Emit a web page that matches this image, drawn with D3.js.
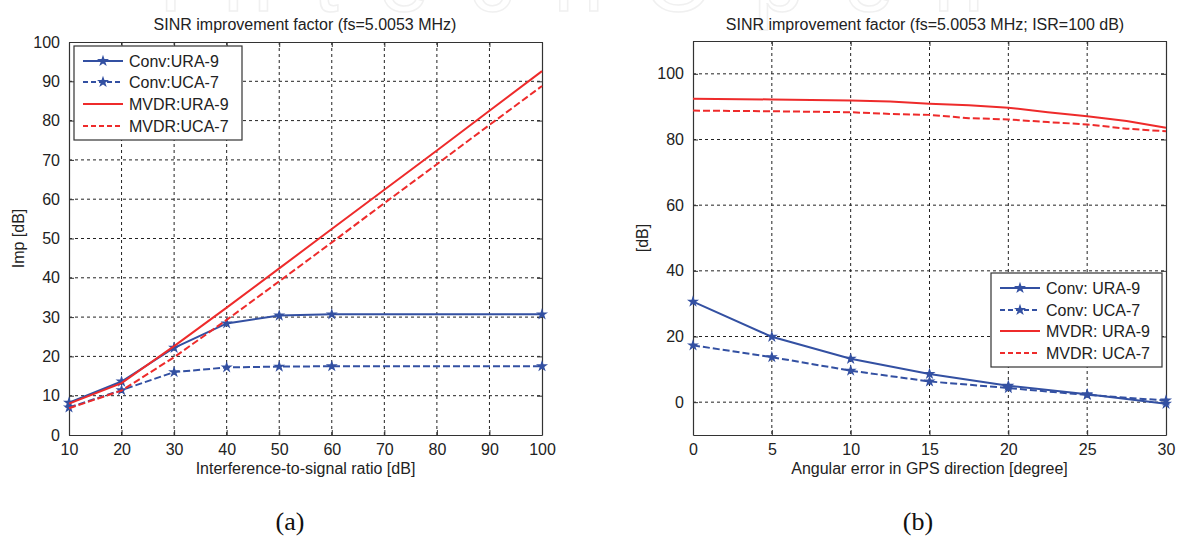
<!DOCTYPE html>
<html>
<head>
<meta charset="utf-8">
<script src="https://cdn.jsdelivr.net/npm/d3@7"></script>
<style>
  body { margin: 0; background: #fff; }
  svg { display: block; font-family: "Liberation Sans", Arial, sans-serif; }
</style>
</head>
<body>
<div id="chart-area"></div>
<script>
// ---- data ----
// (a) improvement vs interference-to-signal ratio
var isrConv = [10, 20, 30, 40, 50, 60, 100]
var convUra9A = [8.2, 13.6, 22.2, 28.4, 30.4, 30.7, 30.7]
var convUca7A = [7.0, 11.4, 16.0, 17.2, 17.4, 17.5, 17.5]
var isrMvdr = [10, 20, 30, 40, 50, 60, 70, 80, 90, 100]
var mvdrUra9A = [8.0, 13.2, 22.6, 32.4, 42.4, 52.4, 62.4, 72.4, 82.5, 92.6]
var mvdrUca7A = [6.8, 11.3, 19.8, 29.3, 39.1, 49.0, 59.0, 68.9, 78.9, 88.8]

// (b) improvement vs angular error
var angConv = [0, 5, 10, 15, 20, 25, 30]
var convUra9B = [30.6, 19.9, 13.2, 8.6, 5.0, 2.4, -0.5]
var convUca7B = [17.3, 13.7, 9.6, 6.3, 4.3, 2.2, 0.5]
var angMvdr = [0, 5, 10, 12.5, 15, 17.5, 20, 22.5, 25, 27.5, 30]
var mvdrUra9B = [92.4, 92.2, 91.9, 91.6, 90.9, 90.4, 89.7, 88.3, 87.1, 85.6, 83.6]
var mvdrUca7B = [88.8, 88.6, 88.3, 87.8, 87.5, 86.5, 86.1, 85.3, 84.6, 83.3, 82.5]

var ticksA_x = [10, 20, 30, 40, 50, 60, 70, 80, 90, 100]
var ticksA_y = [0, 10, 20, 30, 40, 50, 60, 70, 80, 90, 100]
var ticksB_x = [0, 5, 10, 15, 20, 25, 30]
var ticksB_y = [0, 20, 40, 60, 80, 100]

var legendA = ["Conv:URA-9", "Conv:UCA-7", "MVDR:URA-9", "MVDR:UCA-7"]
var legendB = ["Conv: URA-9", "Conv: UCA-7", "MVDR: URA-9", "MVDR: UCA-7"]

var blue = "#3350a2", red = "#ee2b2b"
var dashes = "7,3"

var W = 1182, H = 538

var svg = d3.select("#chart-area")
    .append("svg")
    .attr("width", W)
    .attr("height", H)

// faint watermark along the top edge
svg.append("text")
    .attr("x", 591).attr("y", 11)
    .attr("text-anchor", "middle")
    .attr("font-size", "90px")
    .attr("fill", "none")
    .attr("stroke", "#f0f0f0")
    .attr("stroke-width", 1.5)
    .attr("letter-spacing", "40px")
    .text("IntechOpen")

function panel(opt) {
    var x = d3.scaleLinear().domain(opt.xDomain).range(opt.xRange)
    var y = d3.scaleLinear().domain(opt.yDomain).range(opt.yRange)
    var g = svg.append("g")
    var x0 = opt.xRange[0], x1 = opt.xRange[1], y0 = opt.yRange[0], y1 = opt.yRange[1]

    // grid
    g.append("g").selectAll("line.gx")
        .data(opt.xTicks.slice(1, -1))
        .enter().append("line")
        .attr("x1", d => x(d)).attr("x2", d => x(d))
        .attr("y1", y1).attr("y2", y0)
        .attr("stroke", "#222").attr("stroke-width", 1)
        .attr("stroke-dasharray", "3,3")
    g.append("g").selectAll("line.gy")
        .data(opt.yTicks.filter(d => y(d) > y1 + 1 && y(d) < y0 - 1))
        .enter().append("line")
        .attr("y1", d => y(d)).attr("y2", d => y(d))
        .attr("x1", x0).attr("x2", x1)
        .attr("stroke", "#222").attr("stroke-width", 1)
        .attr("stroke-dasharray", "3,3")

    // axes (MATLAB style: inward ticks on all sides)
    var axB = g.append("g").attr("transform", "translate(0," + y0 + ")")
        .call(d3.axisBottom(x).tickValues(opt.xTicks).tickSizeInner(-5).tickSizeOuter(0).tickPadding(9))
    var axT = g.append("g").attr("transform", "translate(0," + y1 + ")")
        .call(d3.axisTop(x).tickValues(opt.xTicks).tickSizeInner(-5).tickSizeOuter(0).tickFormat(""))
    var axL = g.append("g").attr("transform", "translate(" + x0 + ",0)")
        .call(d3.axisLeft(y).tickValues(opt.yTicks).tickSizeInner(-5).tickSizeOuter(0).tickPadding(9))
    var axR = g.append("g").attr("transform", "translate(" + x1 + ",0)")
        .call(d3.axisRight(y).tickValues(opt.yTicks).tickSizeInner(-5).tickSizeOuter(0).tickFormat(""))
    ;[axB, axT, axL, axR].forEach(a => {
        a.select(".domain").attr("stroke", "#333").attr("stroke-width", 1.2)
        a.selectAll(".tick line").attr("stroke", "#333")
        a.selectAll("text").attr("font-size", "16px").attr("fill", "#222")
            .attr("font-family", "Liberation Sans, Arial, sans-serif")
    })

    // title and labels
    g.append("text")
        .attr("x", opt.titleX).attr("y", 30)
        .attr("text-anchor", "middle")
        .attr("font-size", "16px").attr("fill", "#222")
        .text(opt.title)
    g.append("text")
        .attr("x", (x0 + x1) / 2).attr("y", 474)
        .attr("text-anchor", "middle")
        .attr("font-size", "16px").attr("fill", "#222")
        .text(opt.xLabel)
    g.append("text")
        .attr("transform", "translate(" + opt.yLabelX + "," + ((y0 + y1) / 2) + ") rotate(-90)")
        .attr("text-anchor", "middle")
        .attr("font-size", "16px").attr("fill", "#222")
        .text(opt.yLabel)

    // series
    var line = d3.line().x(d => x(d[0])).y(d => y(d[1]))
    opt.series.forEach(s => {
        var pts = s.xs.map((v, i) => [v, s.ys[i]])
        g.append("path")
            .attr("d", line(pts))
            .attr("fill", "none")
            .attr("stroke", s.color)
            .attr("stroke-width", 2)
            .attr("stroke-dasharray", s.dash ? dashes : null)
        if (s.marker) {
            g.append("g").selectAll("path")
                .data(pts)
                .enter().append("path")
                .attr("transform", d => "translate(" + x(d[0]) + "," + y(d[1]) + ")")
                .attr("d", d3.symbol().type(d3.symbolStar).size(45))
                .attr("fill", s.color)
        }
    })

    // legend
    var L = opt.legend
    var lg = g.append("g").attr("transform", "translate(" + L.x + "," + L.y + ")")
    lg.append("rect")
        .attr("width", L.w).attr("height", L.h)
        .attr("fill", "#fff").attr("stroke", "#333").attr("stroke-width", 1.2)
    opt.series.forEach((s, i) => {
        var yy = L.rows[i]
        lg.append("line")
            .attr("x1", 9).attr("x2", 49).attr("y1", yy).attr("y2", yy)
            .attr("stroke", s.color).attr("stroke-width", 2)
            .attr("stroke-dasharray", s.dash ? "5,3" : null)
        if (s.marker) {
            lg.append("path")
                .attr("transform", "translate(29," + yy + ")")
                .attr("d", d3.symbol().type(d3.symbolStar).size(45))
                .attr("fill", s.color)
        }
        lg.append("text")
            .attr("x", 55).attr("y", yy).attr("dy", "0.36em")
            .attr("font-size", "16px").attr("fill", "#222")
            .text(L.labels[i])
    })
}

panel({
    xDomain: [10, 100], xRange: [69, 542],
    yDomain: [0, 100], yRange: [435, 42],
    xTicks: ticksA_x, yTicks: ticksA_y,
    title: "SINR improvement factor (fs=5.0053 MHz)", titleX: 305,
    xLabel: "Interference-to-signal ratio [dB]",
    yLabel: "Imp [dB]", yLabelX: 24,
    series: [
        { xs: isrConv, ys: convUra9A, color: blue, dash: false, marker: true },
        { xs: isrConv, ys: convUca7A, color: blue, dash: true, marker: true },
        { xs: isrMvdr, ys: mvdrUra9A, color: red, dash: false, marker: false },
        { xs: isrMvdr, ys: mvdrUca7A, color: red, dash: true, marker: false }
    ],
    legend: { x: 74, y: 46, w: 168, h: 94, rows: [15, 36, 58, 80], labels: legendA }
})

panel({
    xDomain: [0, 30], xRange: [693, 1166],
    yDomain: [-10, 110], yRange: [435, 41],
    xTicks: ticksB_x, yTicks: ticksB_y,
    title: "SINR improvement factor (fs=5.0053 MHz; ISR=100 dB)", titleX: 925,
    xLabel: "Angular error in GPS direction [degree]",
    yLabel: "[dB]", yLabelX: 648,
    series: [
        { xs: angConv, ys: convUra9B, color: blue, dash: false, marker: true },
        { xs: angConv, ys: convUca7B, color: blue, dash: true, marker: true },
        { xs: angMvdr, ys: mvdrUra9B, color: red, dash: false, marker: false },
        { xs: angMvdr, ys: mvdrUca7B, color: red, dash: true, marker: false }
    ],
    legend: { x: 991, y: 273, w: 171, h: 94, rows: [15, 37, 58, 80], labels: legendB }
})

// sub-figure captions
svg.append("text")
    .attr("x", 290).attr("y", 530)
    .attr("text-anchor", "middle")
    .attr("font-family", "Liberation Serif, serif")
    .attr("font-size", "26px").attr("fill", "#111")
    .text("(a)")
svg.append("text")
    .attr("x", 918).attr("y", 530)
    .attr("text-anchor", "middle")
    .attr("font-family", "Liberation Serif, serif")
    .attr("font-size", "26px").attr("fill", "#111")
    .text("(b)")
</script>
</body>
</html>
